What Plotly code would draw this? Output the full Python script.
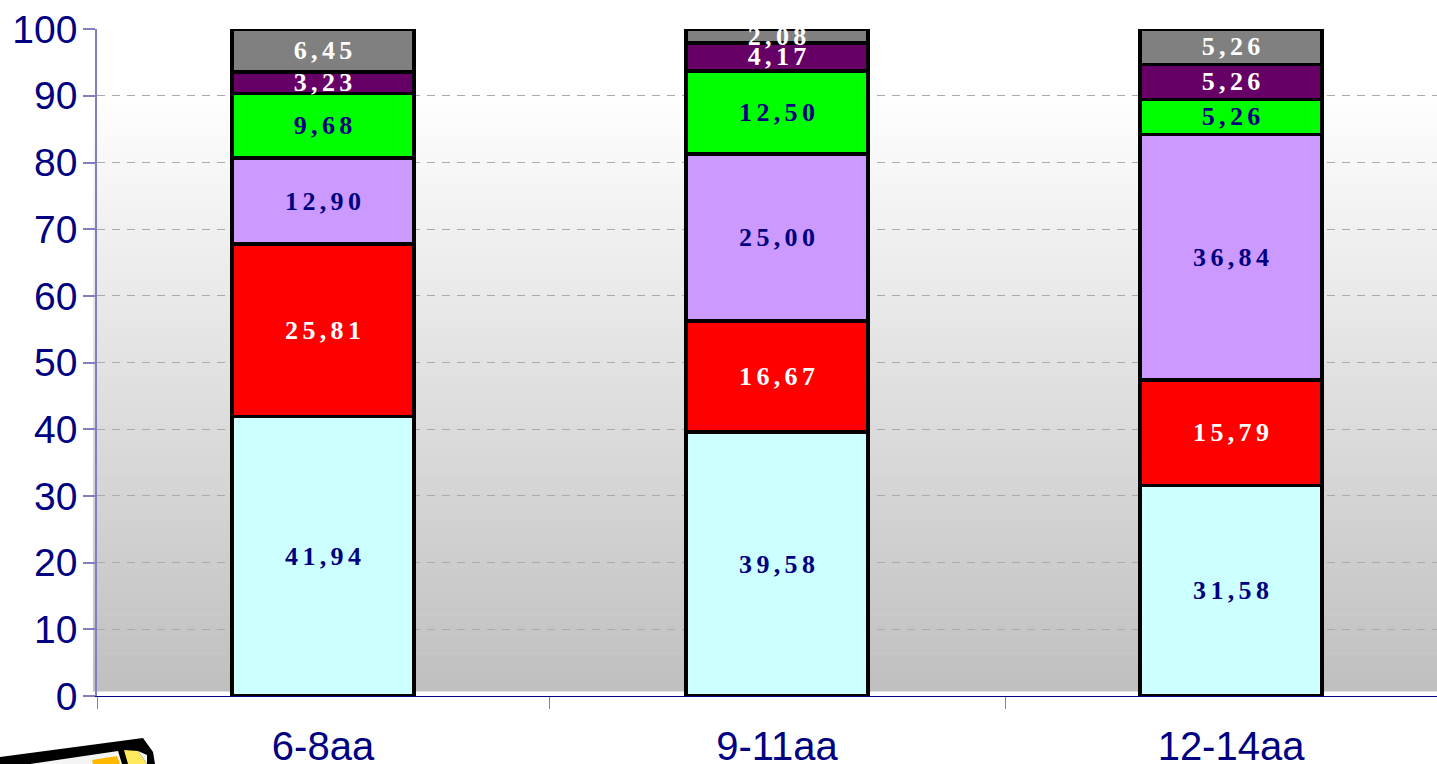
import plotly.graph_objects as go

categories = ["6-8aa", "9-11aa", "12-14aa"]
series_values = [
    [41.94, 39.58, 31.58],
    [25.81, 16.67, 15.79],
    [12.90, 25.00, 36.84],
    [9.68, 12.50, 5.26],
    [3.23, 4.17, 5.26],
    [6.45, 2.08, 5.26],
]
series_colors = ["#CCFFFF", "#FF0000", "#CC99FF", "#00FF00", "#660066", "#808080"]
label_colors = ["#000080", "#FFFFFF", "#000080", "#000080", "#FFFFFF", "#FFFFFF"]
y_ticks = list(range(0, 101, 10))

W, H = 1437, 764
L, R, T, B = 97, 0, 29, 68
NAVY = "#000080"

def spaced(v):
    s = f"{v:.2f}".replace(".", ",")
    return "\u2006".join(s)

fig = go.Figure()
for vals, col, lc in zip(series_values, series_colors, label_colors):
    fig.add_bar(
        x=[0, 1, 2], y=vals, width=0.4, marker=dict(color=col, line=dict(color="black", width=3.5)),
        text=[spaced(v) for v in vals], textposition="inside", insidetextanchor="middle",
        textangle=0, constraintext="none", cliponaxis=False, showlegend=False,
        textfont=dict(family="Liberation Serif", size=26, color=lc, weight="bold"),
    )

pw, ph = W - L - R, H - T - B
def px(x): return (x - L) / pw
def py(y): return 1 - (y - T) / ph

# background gradient (white at top to grey near the bottom)
shapes = []
n = 64
top_px, bot_px = 85.0, 691.0
for i in range(n):
    t = (i + 0.5) / n
    c = round(255 - (255 - 192) * t)
    y0 = top_px + (bot_px - top_px) * i / n
    y1 = top_px + (bot_px - top_px) * (i + 1) / n + 0.5
    shapes.append(dict(type="rect", xref="paper", yref="paper",
                       x0=px(93), x1=1.0, y0=py(y1), y1=py(y0),
                       fillcolor=f"rgb({c},{c},{c})", line=dict(width=0), layer="below"))

# pencil clip-art corner at the bottom left
def poly(points, color):
    d = "M" + " L".join(f"{px(a):.5f},{py(b):.5f}" for a, b in points) + " Z"
    return dict(type="path", xref="paper", yref="paper", path=d, fillcolor=color,
                line=dict(width=0), layer="above")
shapes += [
    poly([(0, 757), (143, 738), (153, 752), (155, 764), (0, 764)], "#000000"),
    poly([(30, 764), (118, 751), (122, 764)], "#F4F4F4"),
    poly([(92, 760), (117, 756), (120, 764), (93, 764)], "#FFB800"),
    poly([(124, 750), (138, 751), (147, 764), (128, 764)], "#FFE95C"),
    poly([(138, 751), (147, 755), (147, 764)], "#F4F4F4"),
]

fig.update_layout(
    width=W, height=H, autosize=False, barmode="stack",
    margin=dict(l=L, r=R, t=T, b=B, pad=0),
    paper_bgcolor="white", plot_bgcolor="rgba(0,0,0,0)",
    shapes=shapes,
    xaxis=dict(range=[-0.4978, 2.4537], tickmode="array", tickvals=[0, 1, 2], ticktext=categories,
               automargin=False,
               ticks="", showgrid=False, zeroline=False, showline=True, linecolor=NAVY, linewidth=1,
               ticklabelstandoff=15,
               tickfont=dict(family="Liberation Sans", size=40, color=NAVY),
               minor=dict(tickmode="array", tickvals=[-0.4978, 0.4978, 1.5022], ticks="outside", ticklen=12,
                          tickcolor="#8080C0", tickwidth=1, showgrid=False)),
    yaxis=dict(range=[0, 100.02], tickmode="array", tickvals=y_ticks, ticks="outside", ticklen=12,
               automargin=False,
               tickcolor="#8080C0", tickwidth=1.5, showline=True, linecolor="#8080C0", linewidth=1.5,
               showgrid=True, gridcolor="#ABABAB", griddash="8px,7px", gridwidth=1, zeroline=False,
               ticklabelstandoff=-2,
               tickfont=dict(family="Liberation Sans", size=39, color=NAVY)),
)
fig.write_html("out.html", config={"displayModeBar": False},
               post_script="document.body.style.margin='0';document.body.style.overflow='hidden';")
